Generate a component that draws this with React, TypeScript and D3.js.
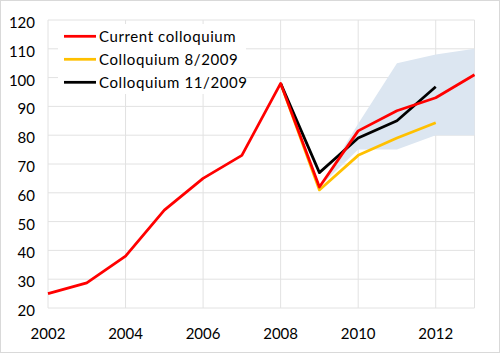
import React from "react";
import * as d3 from "d3";

const years = [2002, 2003, 2004, 2005, 2006, 2007, 2008, 2009, 2010, 2011, 2012, 2013];
const currentValues = [25, 28.7, 38, 54, 65, 73, 98, 62, 81.5, 88.5, 93, 101];
const aug2009Years = [2008, 2009, 2010, 2011, 2012];
const aug2009Values = [98, 61, 73, 79, 84.3];
const nov2009Years = [2008, 2009, 2010, 2011, 2012];
const nov2009Values = [98, 67, 79, 85, 96.8];
const bandYears = [2009, 2010, 2011, 2012, 2013];
const bandLow = [62, 75, 75, 80, 80];
const bandHigh = [62, 84, 105, 108, 110];
const yTicks = [20, 30, 40, 50, 60, 70, 80, 90, 100, 110, 120];
const xTicks = [2002, 2004, 2006, 2008, 2010, 2012];
const legendLabels = ["Current colloquium", "Colloquium 8/2009", "Colloquium 11/2009"];
const seriesColors = ["#ff0000", "#ffc000", "#000000"];

const W = 500;
const H = 353;

export default function App() {
  const x = d3.scaleLinear().domain([2002, 2013]).range([48, 474.5]);
  const y = d3.scaleLinear().domain([20, 120]).range([308, 20]);
  const line = d3
    .line<[number, number]>()
    .x((d) => x(d[0]))
    .y((d) => y(d[1]));
  const area = d3
    .area<number>()
    .x((_, i) => x(bandYears[i]))
    .y0((_, i) => y(bandLow[i]))
    .y1((_, i) => y(bandHigh[i]));

  const cur = years.map((yr, i) => [yr, currentValues[i]] as [number, number]);
  const aug = aug2009Years.map((yr, i) => [yr, aug2009Values[i]] as [number, number]);
  const nov = nov2009Years.map((yr, i) => [yr, nov2009Values[i]] as [number, number]);

  const font = "Lato, 'Open Sans', sans-serif";
  const gridColor = "#e2e2e2";
  const legendY = [36.3, 59.3, 82.3];

  return (
    <svg
      width={W}
      height={H}
      style={{ position: "absolute", left: 0, top: 0, display: "block" }}
      fontFamily={font}
    >
      <rect x={0} y={0} width={W} height={H} fill="#ffffff" />
      <rect x={0.5} y={0.5} width={W - 1} height={H - 1} fill="none" stroke="#d9d9d9" />
      {yTicks.map((t) => (
        <line key={"gy" + t} x1={x(2002)} x2={x(2013)} y1={y(t)} y2={y(t)} stroke={gridColor} strokeWidth={1} />
      ))}
      {[...xTicks, 2013].map((t) => (
        <line key={"gx" + t} x1={x(t)} x2={x(t)} y1={y(120)} y2={y(20)} stroke={gridColor} strokeWidth={1} />
      ))}
      <path d={area(bandLow) || ""} fill="#dce6f1" />
      <path d={line(aug) || ""} fill="none" stroke={seriesColors[1]} strokeWidth={2.75} strokeLinejoin="round" />
      <path d={line(nov) || ""} fill="none" stroke={seriesColors[2]} strokeWidth={2.75} strokeLinejoin="round" />
      <path d={line(cur) || ""} fill="none" stroke={seriesColors[0]} strokeWidth={2.75} strokeLinejoin="round" />
      {yTicks.map((t) => (
        <text key={"ty" + t} x={35} y={y(t) + 2} textAnchor="end" dominantBaseline="central" fontSize={15} fill="#000">
          {t}
        </text>
      ))}
      {xTicks.map((t) => (
        <text key={"tx" + t} x={x(t)} y={333} textAnchor="middle" dominantBaseline="central" fontSize={15} fill="#000">
          {t}
        </text>
      ))}
      <rect x={58} y={24} width={188} height={70} fill="#ffffff" />
      {legendLabels.map((lab, i) => (
        <g key={lab}>
          <line x1={64} x2={96} y1={legendY[i]} y2={legendY[i]} stroke={seriesColors[i]} strokeWidth={2.75} />
          <text x={99} y={legendY[i]} dominantBaseline="central" fontSize={15} letterSpacing={0.6} fill="#000">
            {lab}
          </text>
        </g>
      ))}
    </svg>
  );
}
